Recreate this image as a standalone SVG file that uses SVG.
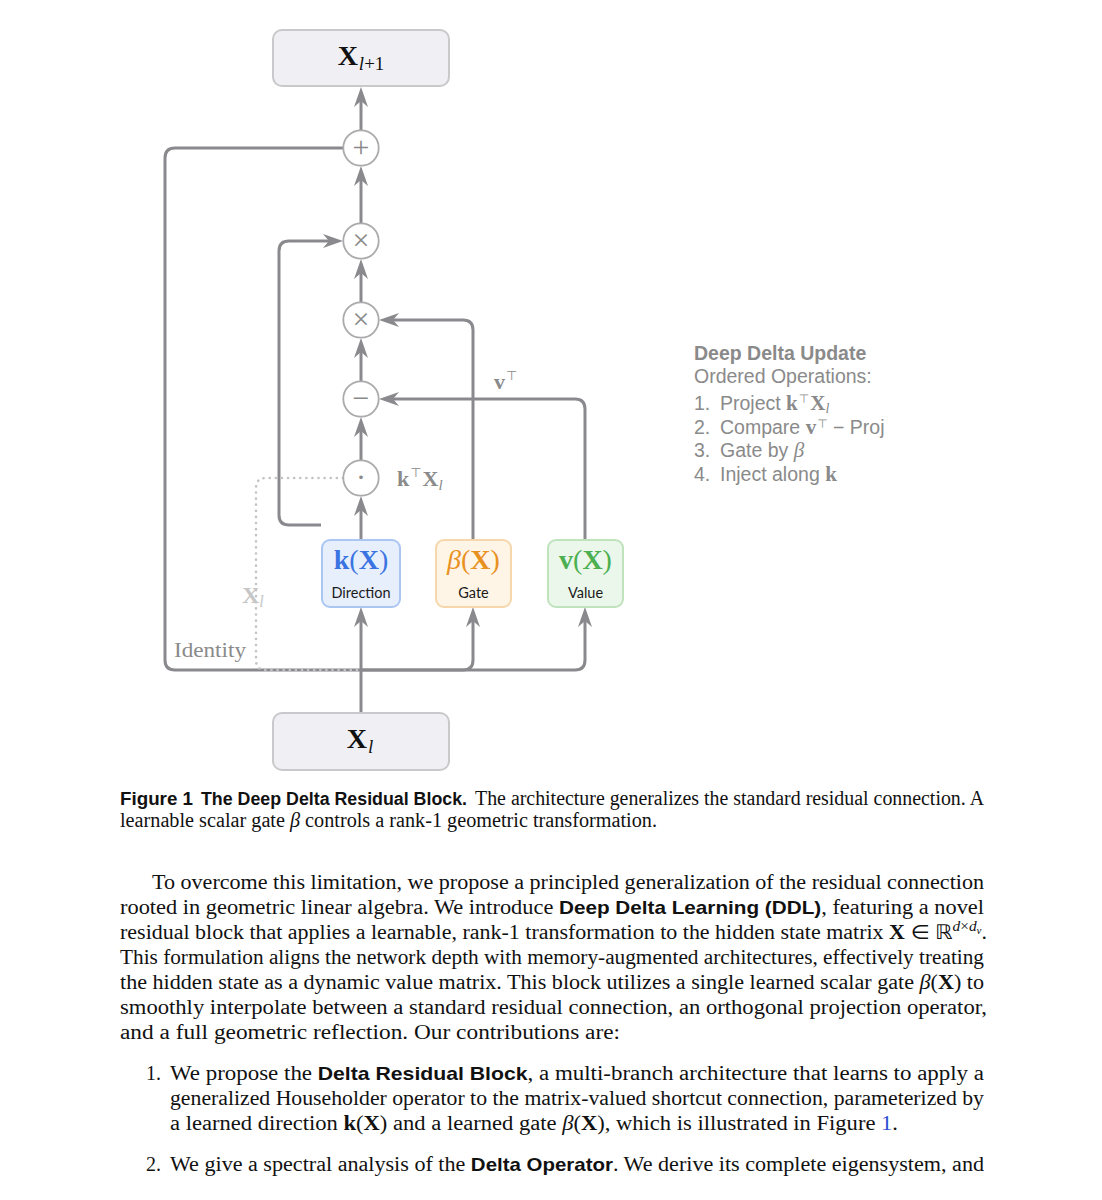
<svg xmlns="http://www.w3.org/2000/svg" width="1102" height="1200" viewBox="0 0 1102 1200">
<defs>
<style>
.ln{fill:none;stroke:#8a8a8e;stroke-width:3;stroke-linejoin:round}
.arr{marker-end:url(#ah)}
.dot{fill:none;stroke:#c4c4c4;stroke-width:2.6;stroke-linecap:round;stroke-dasharray:0.1 6}
.op{fill:#fff;stroke:#ababab;stroke-width:1.8}
.opt{font-family:"Liberation Serif","DejaVu Serif",serif;font-size:30px;fill:#8a8a8a;text-anchor:middle}
.gbox{fill:#f0f0f4;stroke:#c9c9cc;stroke-width:2}
.serif{font-family:"Liberation Serif","DejaVu Sans",serif}
.sans{font-family:"Liberation Sans","DejaVu Sans",sans-serif}
.lato{font-family:Lato,"Liberation Sans",sans-serif}
.b{font-weight:bold}
.i{font-style:italic}
.body{font-family:"Liberation Serif","DejaVu Sans",serif;font-size:20px;fill:#111}
.lab{fill:#8a8a8a}
.leg{font-family:"Liberation Sans","DejaVu Sans",sans-serif;font-size:19.5px;fill:#8a8a8a}
</style>
<marker id="ah" markerUnits="userSpaceOnUse" markerWidth="22" markerHeight="16" refX="6" refY="8" orient="auto" viewBox="0 0 22 16">
<path d="M0,1 L20,8 L0,15 L6,8 z" fill="#8a8a8e"/>
</marker>
</defs>
<rect width="1102" height="1200" fill="#fff"/>

<g id="connectors">
<path class="ln arr" d="M361,713 L361,621"/>
<path class="ln arr" d="M361,540 L361,510"/>
<path class="ln arr" d="M361,460 L361,431"/>
<path class="ln arr" d="M361,381 L361,352"/>
<path class="ln arr" d="M361,302 L361,273"/>
<path class="ln arr" d="M361,223 L361,180"/>
<path class="ln arr" d="M361,130 L361,101"/>
<path class="ln" d="M361,670 L175,670 Q165,670 165,660 L165,158 Q165,148 175,148 L343,148"/>
<path class="ln arr" d="M321,525 L289,525 Q279,525 279,515 L279,251 Q279,241 289,241 L329,241"/>
<path class="ln arr" d="M473,540 L473,330 Q473,320 463,320 L393,320"/>
<path class="ln arr" d="M585,540 L585,409 Q585,399 575,399 L393,399"/>
<path class="ln arr" d="M361,670 L463,670 Q473,670 473,660 L473,621"/>
<path class="ln arr" d="M361,670 L575,670 Q585,670 585,660 L585,621"/>
<path class="dot" d="M343,478 L266,478 Q256,478 256,488 L256,660 Q256,670 266,670 L361,670"/>
</g>

<g id="node-xl1">
<rect class="gbox" x="273" y="30" width="176" height="56" rx="9"/>
<text x="361" y="65" text-anchor="middle" class="serif" fill="#111"><tspan class="b" font-size="28">X</tspan><tspan dy="5" dx="1" font-size="19" class="i">l</tspan><tspan font-size="19">+1</tspan></text>
</g>

<g id="node-plus">
<circle class="op" cx="361" cy="148" r="17.7"/>
<text class="opt" x="361" y="157">+</text>
</g>
<g id="node-mul1">
<circle class="op" cx="361" cy="241" r="17.7"/>
<text class="opt" x="361" y="250">×</text>
</g>
<g id="node-mul2">
<circle class="op" cx="361" cy="320" r="17.7"/>
<text class="opt" x="361" y="329">×</text>
</g>
<g id="node-minus">
<circle class="op" cx="361" cy="399" r="17.7"/>
<text class="opt" x="361" y="408">−</text>
</g>
<g id="node-dot">
<circle class="op" cx="361" cy="478" r="17.7"/>
<text class="opt" x="361" y="487">·</text>
</g>

<g id="node-k">
<rect x="322" y="540" width="78" height="67" rx="8" fill="#e7effd" stroke="#abc6f3" stroke-width="2"/>
<text x="361" y="569" text-anchor="middle" class="serif" font-size="28" fill="#3b74e2"><tspan class="b">k</tspan>(<tspan class="b">X</tspan>)</text>
<text x="361" y="598" text-anchor="middle" class="lato" font-size="14.5" fill="#1a1a1a">Direction</text>
</g>
<g id="node-beta">
<rect x="436" y="540" width="75" height="67" rx="8" fill="#fff5e7" stroke="#f6d7ab" stroke-width="2"/>
<text x="473.5" y="569" text-anchor="middle" class="serif" font-size="28" fill="#e8911f"><tspan class="i">β</tspan>(<tspan class="b">X</tspan>)</text>
<text x="473.5" y="598" text-anchor="middle" class="lato" font-size="14.5" fill="#1a1a1a">Gate</text>
</g>
<g id="node-v">
<rect x="548" y="540" width="75" height="67" rx="8" fill="#ebf7ea" stroke="#bfe3bd" stroke-width="2"/>
<text x="585.5" y="569" text-anchor="middle" class="serif" font-size="28" fill="#4caf50"><tspan class="b">v</tspan>(<tspan class="b">X</tspan>)</text>
<text x="585.5" y="598" text-anchor="middle" class="lato" font-size="14.5" fill="#1a1a1a">Value</text>
</g>

<g id="node-xl">
<rect class="gbox" x="273" y="713" width="176" height="57" rx="9"/>
<text x="360" y="748" text-anchor="middle" class="serif" fill="#111"><tspan class="b" font-size="28">X</tspan><tspan dy="5" dx="1" font-size="19" class="i">l</tspan></text>
</g>

<g id="labels">
<text x="397" y="486" class="serif lab"><tspan class="b" font-size="22">k</tspan><tspan dy="-9" dx="1" font-size="13">⊤</tspan><tspan dy="9" dx="1" class="b" font-size="22">X</tspan><tspan dy="4" class="i" font-size="15">l</tspan></text>
<text x="494" y="389" class="serif lab"><tspan class="b" font-size="22">v</tspan><tspan dy="-9" dx="1" font-size="13">⊤</tspan></text>
<text x="242" y="603" class="serif" fill="#c6c6c6"><tspan class="b" font-size="24">X</tspan><tspan dy="4" class="i" font-size="16">l</tspan></text>
<text x="174" y="657" class="serif lab" font-size="20" textLength="72" lengthAdjust="spacingAndGlyphs">Identity</text>
</g>

<g id="legend">
<text x="694" y="360" class="leg b">Deep Delta Update</text>
<text x="694" y="383" class="leg">Ordered Operations:</text>
<text x="694" y="410" class="leg"><tspan>1.</tspan><tspan x="720">Project </tspan><tspan class="serif b" font-size="21">k</tspan><tspan class="serif" dy="-7" dx="1" font-size="12">⊤</tspan><tspan class="serif b" dy="7" dx="1" font-size="21">X</tspan><tspan class="serif i" dy="3" font-size="14">l</tspan></text>
<text x="694" y="434" class="leg"><tspan>2.</tspan><tspan x="720">Compare </tspan><tspan class="serif b" font-size="21">v</tspan><tspan class="serif" dy="-6" dx="1" font-size="12">⊤</tspan><tspan dy="6"> − Proj</tspan></text>
<text x="694" y="457" class="leg"><tspan>3.</tspan><tspan x="720">Gate by </tspan><tspan class="serif i" font-size="21">β</tspan></text>
<text x="694" y="481" class="leg"><tspan>4.</tspan><tspan x="720">Inject along </tspan><tspan class="serif b" font-size="21">k</tspan></text>
</g>

<g id="caption">
<text x="120" y="805" class="sans b" font-size="17.5" fill="#111" textLength="73" lengthAdjust="spacingAndGlyphs">Figure 1</text>
<text x="201" y="805" class="sans b" font-size="17.5" fill="#111" textLength="266" lengthAdjust="spacingAndGlyphs">The Deep Delta Residual Block.</text>
<text x="475" y="805" class="body" font-size="19" textLength="509" lengthAdjust="spacingAndGlyphs">The architecture generalizes the standard residual connection. A</text>
<text x="120" y="827" class="body" font-size="19" textLength="537" lengthAdjust="spacingAndGlyphs">learnable scalar gate <tspan class="i">β</tspan> controls a rank-1 geometric transformation.</text>
</g>

<g id="body">
<text x="152" y="889" class="body" textLength="832" lengthAdjust="spacingAndGlyphs">To overcome this limitation, we propose a principled generalization of the residual connection</text>
<text x="120" y="914" class="body" textLength="864" lengthAdjust="spacingAndGlyphs">rooted in geometric linear algebra. We introduce <tspan class="sans b" font-size="18.5">Deep Delta Learning (DDL)</tspan>, featuring a novel</text>
<text x="120" y="939" class="body" textLength="867" lengthAdjust="spacingAndGlyphs">residual block that applies a learnable, rank-1 transformation to the hidden state matrix <tspan class="b">X</tspan> ∈ ℝ<tspan dy="-8" font-size="14" class="i">d</tspan><tspan font-size="14">×</tspan><tspan font-size="14" class="i">d</tspan><tspan dy="3" font-size="10" class="i">v</tspan><tspan dy="5">.</tspan></text>
<text x="120" y="964" class="body" textLength="864" lengthAdjust="spacingAndGlyphs">This formulation aligns the network depth with memory-augmented architectures, effectively treating</text>
<text x="120" y="989" class="body" textLength="864" lengthAdjust="spacingAndGlyphs">the hidden state as a dynamic value matrix. This block utilizes a single learned scalar gate <tspan class="i">β</tspan>(<tspan class="b">X</tspan>) to</text>
<text x="120" y="1014" class="body" textLength="867" lengthAdjust="spacingAndGlyphs">smoothly interpolate between a standard residual connection, an orthogonal projection operator,</text>
<text x="120" y="1039" class="body" textLength="500" lengthAdjust="spacingAndGlyphs">and a full geometric reflection. Our contributions are:</text>

<text x="146" y="1080" class="body">1.</text>
<text x="170" y="1080" class="body" textLength="814" lengthAdjust="spacingAndGlyphs">We propose the <tspan class="sans b" font-size="18.5">Delta Residual Block</tspan>, a multi-branch architecture that learns to apply a</text>
<text x="170" y="1105" class="body" textLength="814" lengthAdjust="spacingAndGlyphs">generalized Householder operator to the matrix-valued shortcut connection, parameterized by</text>
<text x="170" y="1130" class="body" textLength="728" lengthAdjust="spacingAndGlyphs">a learned direction <tspan class="b">k</tspan>(<tspan class="b">X</tspan>) and a learned gate <tspan class="i">β</tspan>(<tspan class="b">X</tspan>), which is illustrated in Figure <tspan fill="#2b4fd0">1</tspan>.</text>
<text x="146" y="1171" class="body">2.</text>
<text x="170" y="1171" class="body" textLength="814" lengthAdjust="spacingAndGlyphs">We give a spectral analysis of the <tspan class="sans b" font-size="18.5">Delta Operator</tspan>. We derive its complete eigensystem, and</text>
</g>
</svg>
